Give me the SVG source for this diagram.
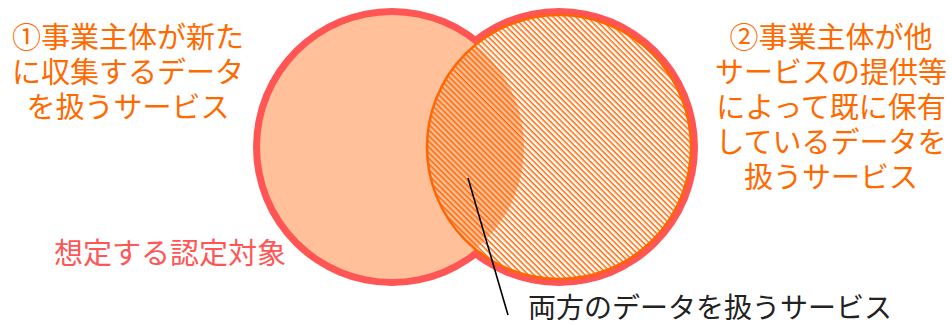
<svg xmlns="http://www.w3.org/2000/svg" width="952" height="325" viewBox="0 0 952 325">
<style>
.t{font-family:"Noto Sans CJK JP","Noto Sans",sans-serif;font-size:29px;text-anchor:middle}
.o{fill:#FF6A00}
.r{fill:#FF5555}
.k{fill:#222222}
</style>
<defs>
<pattern id="hatch" patternUnits="userSpaceOnUse" width="4" height="4" patternTransform="rotate(45)">
<rect x="0" y="0" width="4" height="1.5" fill="#FF6600"/>
</pattern>
</defs>
<rect width="952" height="325" fill="#FFFFFF"/>
<g id="outline">
<circle cx="392" cy="147" r="139" fill="#FF5555"/>
<circle cx="559" cy="147" r="139" fill="#FF5555"/>
<circle cx="559" cy="147" r="132" fill="#FFFFFF"/>
</g>
<g id="left-set">
<circle cx="392" cy="147" r="132" fill="#FFC09A"/>
</g>
<g id="right-set">
<circle cx="559" cy="147" r="132" fill="url(#hatch)" stroke="#FF6600" stroke-width="2.5"/>
</g>
<g id="label-left">
<text class="t o" x="128" y="48">①事業主体が新た</text>
<text class="t o" x="128" y="83">に収集するデータ</text>
<text class="t o" x="128" y="118">を扱うサービス</text>
</g>
<g id="label-right">
<text class="t o" x="831" y="48">②事業主体が他</text>
<text class="t o" x="831" y="83">サービスの提供等</text>
<text class="t o" x="831" y="118">によって既に保有</text>
<text class="t o" x="831" y="153">しているデータを</text>
<text class="t o" x="831" y="188">扱うサービス</text>
</g>
<g id="label-target">
<text class="t r" x="170" y="264">想定する認定対象</text>
</g>
<g id="label-both">
<text class="t k" x="710" y="318" style="font-size:28px">両方のデータを扱うサービス</text>
</g>
<g id="connectors">
<line x1="468" y1="178" x2="508" y2="315" stroke="#000000" stroke-width="1.6"/>
</g>
</svg>
